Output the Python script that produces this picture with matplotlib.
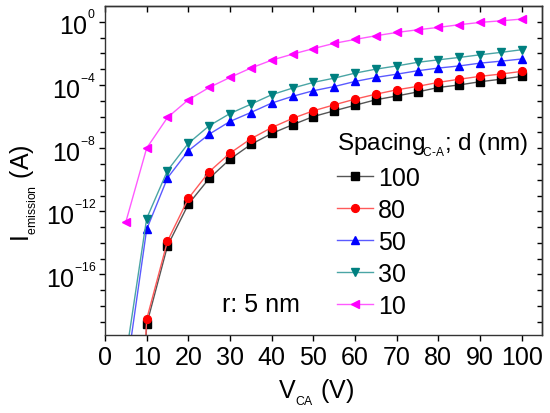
import math
import matplotlib
matplotlib.use("Agg")
import matplotlib.pyplot as plt
from matplotlib.ticker import FixedLocator, FuncFormatter

plt.rcParams['font.family'] = ['Liberation Sans', 'DejaVu Sans']
plt.rcParams['mathtext.fontset'] = 'custom'
plt.rcParams['mathtext.rm'] = 'Liberation Sans'
plt.rcParams['mathtext.it'] = 'Liberation Sans:italic'
plt.rcParams['mathtext.bf'] = 'Liberation Sans:bold'

# ---- data ----
v_ca = [5, 10, 15, 20, 25, 30, 35, 40, 45, 50, 55, 60, 65, 70, 75, 80, 85, 90, 95, 100]

i_100 = [1e-46, 6.9e-20, 6.5e-15, 2.8e-12, 1.2e-10, 2.0e-9, 1.7e-8, 8.5e-8, 3.0e-7, 1.0e-6,
         2.3e-6, 5.2e-6, 1.15e-5, 2.0e-5, 3.6e-5, 6.9e-5, 1.0e-4, 1.6e-4, 2.3e-4, 3.5e-4]
i_80 = [1e-45, 1.45e-19, 1.3e-14, 6.5e-12, 3.2e-10, 4.8e-9, 3.9e-8, 2.0e-7, 7.6e-7, 2.3e-6,
        5.5e-6, 1.26e-5, 2.6e-5, 4.9e-5, 8.1e-5, 1.45e-4, 2.3e-4, 3.5e-4, 4.9e-4, 7.2e-4]
i_50 = [4e-23, 7.2e-14, 1.3e-10, 6.8e-9, 7.6e-8, 4.9e-7, 1.8e-6, 7.1e-6, 1.9e-5, 4.3e-5,
        7.9e-5, 1.66e-4, 3.0e-4, 4.8e-4, 7.9e-4, 1.17e-3, 1.6e-3, 2.4e-3, 3.2e-3, 4.4e-3]
i_30 = [6e-22, 3.5e-13, 3.8e-10, 2.0e-8, 2.6e-7, 1.55e-6, 6.0e-6, 2.4e-5, 6.3e-5, 1.45e-4,
        2.7e-4, 5.6e-4, 1.0e-3, 1.6e-3, 2.7e-3, 3.9e-3, 5.5e-3, 8.1e-3, 1.15e-2, 1.7e-2]
i_10 = [2.1e-13, 1.0e-8, 8.7e-7, 1.15e-5, 6.9e-5, 3.0e-4, 1.17e-3, 3.7e-3, 8.9e-3, 2.0e-2,
        4.3e-2, 7.6e-2, 0.13, 0.21, 0.31, 0.44, 0.65, 0.91, 1.15, 1.48]

series_labels = ['100', '80', '50', '30', '10']
x_ticks = [0, 10, 20, 30, 40, 50, 60, 70, 80, 90, 100]
y_major_exp = [0, -4, -8, -12, -16]
y_minor_exp = [1, -1, -2, -3, -5, -6, -7, -9, -10, -11, -13, -14, -15, -17, -18, -19]

# ---- style ----
marker_colors = ['#000000', '#ff0000', '#0000ff', '#008080', '#ff00ff']
line_colors = ['#555555', '#ff5a5a', '#5a5aff', '#4aa5a5', '#ff5aff']
markers = ['s', 'o', '^', 'v', '<']

fig = plt.figure(figsize=(5.5, 4.14), dpi=100)
ax = fig.add_axes([0.1909, 0.1896, 0.794, 0.7928])

all_series = [i_100, i_80, i_50, i_30, i_10]
for ys, lab, mc, lc, mk in zip(all_series, series_labels, marker_colors, line_colors, markers):
    ax.plot(v_ca, ys, color=lc, lw=1.0, marker=mk, markersize=5.6,
            markerfacecolor=mc, markeredgecolor=mc, label=lab)

ax.set_yscale('log')
ax.set_xlim(0, 104.8)
ax.set_ylim(10 ** -19.8, 10 ** 0.98)

ax.xaxis.set_major_locator(FixedLocator(x_ticks))
ax.xaxis.set_minor_locator(FixedLocator([]))
ax.yaxis.set_major_locator(FixedLocator([10.0 ** e for e in y_major_exp]))
ax.yaxis.set_minor_locator(FixedLocator([10.0 ** e for e in y_minor_exp]))
ax.yaxis.set_major_formatter(FuncFormatter(
    lambda v, p: r'$\mathregular{10^{^{%d}}}$' % round(math.log10(v))))
ax.yaxis.set_minor_formatter(FuncFormatter(lambda v, p: ''))

ax.tick_params(axis='x', which='major', direction='out', length=4.5, width=1.0,
               labelsize=18, pad=3)
ax.tick_params(axis='y', which='major', direction='out', length=4.5, width=1.0,
               labelsize=18, pad=2)
ax.tick_params(axis='y', which='minor', direction='out', length=3.5, width=1.0)

# mirrored inward ticks on top and right
axt = ax.secondary_xaxis('top')
axt.xaxis.set_major_locator(FixedLocator(x_ticks))
axt.tick_params(direction='in', length=4.5, width=1.0, labeltop=False)
axr = ax.secondary_yaxis('right')
axr.set_yscale('log')
axr.yaxis.set_major_locator(FixedLocator([10.0 ** e for e in y_major_exp]))
axr.yaxis.set_minor_locator(FixedLocator([10.0 ** e for e in y_minor_exp]))
axr.tick_params(which='both', direction='in', length=3.5, width=1.0, labelright=False)
axr.yaxis.set_minor_formatter(FuncFormatter(lambda v, p: ''))

for a in (ax, axt, axr):
    for sp in a.spines.values():
        sp.set_linewidth(1.0)
        sp.set_color('#333333')

ax.set_xlabel(r'V$_{_{\mathregular{CA}}}$ (V)', fontsize=18)
ax.xaxis.set_label_coords(0.483, -0.13)
ax.set_ylabel(r'I$_{_{\mathregular{emission}}}$ (A)', fontsize=18)
ax.yaxis.set_label_coords(-0.152, 0.435)

ax.text(28.1, 10 ** -17.9, 'r: 5 nm', fontsize=18, ha='left', va='center')

leg = ax.legend(title=r'Spacing$_{\!_{\mathregular{C\text{-}A}}}$; d (nm)',
                fontsize=18, title_fontsize=17.5, frameon=False,
                loc='upper left', bbox_to_anchor=(337 / 550, (414 - 131) / 414),
                bbox_transform=fig.transFigure, borderpad=0, borderaxespad=0,
                handlelength=1.45, handletextpad=0.18, labelspacing=0.32,
                alignment='left', markerscale=1.0)

fig.savefig('out.png', dpi=100)
